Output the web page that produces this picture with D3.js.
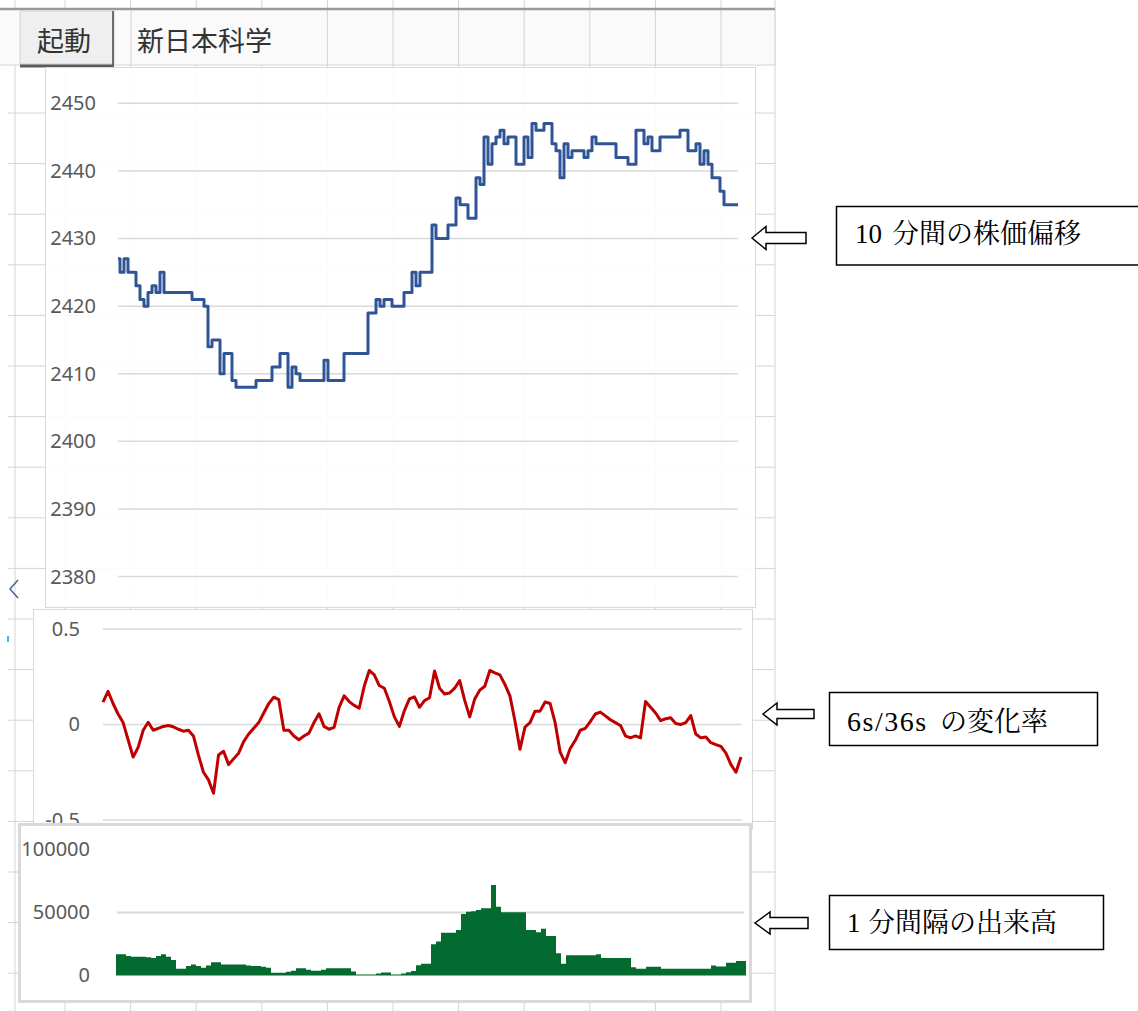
<!DOCTYPE html>
<html>
<head>
<meta charset="utf-8">
<script src="https://cdn.jsdelivr.net/npm/d3@7"></script>
<style>
  body { margin: 0; background: #fff; }
  .tick text { font-family: "Noto Sans", "Open Sans", sans-serif; font-size: 20px; fill: #595959; }
</style>
</head>
<body>
<div class="chart"></div>
<script>
// price over 10 minutes (one value every ~4 px of the plot)
var price = [
  2427, 2425, 2427, 2425, 2425, 2423, 2421, 2420, 2422, 2423,
  2422, 2425, 2422, 2422, 2422, 2422, 2422, 2422, 2422, 2421,
  2421, 2421, 2420, 2414, 2415, 2415, 2410, 2413, 2413, 2409,
  2408, 2408, 2408, 2408, 2408, 2409, 2409, 2409, 2409, 2411,
  2411, 2413, 2413, 2408, 2411, 2410, 2409, 2409, 2409, 2409,
  2409, 2409, 2412, 2409, 2409, 2409, 2409, 2413, 2413, 2413,
  2413, 2413, 2413, 2419, 2419, 2421, 2420, 2421, 2421, 2420,
  2420, 2420, 2422, 2422, 2425, 2423, 2425, 2425, 2425, 2432,
  2430, 2430, 2430, 2432, 2432, 2436, 2435, 2435, 2433, 2433,
  2439, 2438, 2445, 2441, 2444, 2445, 2446, 2444, 2445, 2445,
  2441, 2441, 2445, 2442, 2447, 2446, 2446, 2447, 2447, 2444,
  2443, 2439, 2444, 2442, 2443, 2443, 2443, 2442, 2443, 2445,
  2444, 2444, 2444, 2444, 2444, 2442, 2442, 2442, 2441, 2441,
  2446, 2446, 2444, 2445, 2443, 2443, 2445, 2445, 2445, 2445,
  2445, 2446, 2446, 2443, 2443, 2444, 2441, 2443, 2441, 2439,
  2439, 2437, 2435, 2435, 2435, 2435
];
var priceTicks = [2380, 2390, 2400, 2410, 2420, 2430, 2440, 2450];

// 6s/36s rate of change
var rate = [
  0.117, 0.174, 0.11, 0.055, 0.01, -0.08, -0.17, -0.12, -0.03, 0.012,
  -0.03, -0.02, -0.01, -0.005, -0.012, -0.025, -0.035, -0.03, -0.06, -0.16,
  -0.25, -0.29, -0.36, -0.16, -0.14, -0.21, -0.18, -0.15, -0.09, -0.05,
  -0.02, 0.01, 0.06, 0.11, 0.143, 0.13, -0.03, -0.03, -0.06, -0.08,
  -0.06, -0.045, 0.01, 0.056, -0.01, -0.025, -0.015, 0.09, 0.15, 0.12,
  0.10, 0.085, 0.2, 0.283, 0.26, 0.204, 0.19, 0.12, 0.04, -0.01,
  0.073, 0.134, 0.145, 0.09, 0.125, 0.14, 0.28, 0.19, 0.16, 0.165,
  0.19, 0.23, 0.126, 0.04, 0.134, 0.18, 0.2, 0.283, 0.27, 0.26,
  0.21, 0.15, 0.02, -0.13, -0.014, 0.01, 0.07, 0.07, 0.118, 0.11,
  0.01, -0.145, -0.2, -0.126, -0.084, -0.03, -0.02, 0.015, 0.055, 0.065,
  0.045, 0.025, 0.01, -0.005, -0.06, -0.07, -0.06, -0.07, 0.12, 0.09,
  0.06, 0.02, 0.03, 0.035, 0.005, 0.0, 0.01, 0.047, -0.05, -0.07,
  -0.065, -0.095, -0.105, -0.115, -0.15, -0.21, -0.25, -0.17
];
var rateTicks = [-0.5, 0, 0.5];

// volume per 1 minute interval
var volume = [
  16800, 16800, 15500, 14900, 14900, 14900, 14500, 13900, 15400, 16900,
  14900, 12300, 5400, 5400, 7500, 8800, 7500, 6100, 8000, 10500,
  10500, 8800, 8800, 8800, 8800, 8800, 8000, 7500, 7500, 7000,
  6100, 2200, 2200, 2200, 3000, 3800, 5700, 5700, 4500, 3800,
  3800, 4500, 5700, 5700, 5700, 5700, 5700, 3200, 700, 700,
  700, 700, 1500, 2300, 2300, 700, 700, 1500, 2500, 3500,
  8100, 9300, 9300, 24800, 27000, 34000, 34000, 34000, 36100, 48800,
  50600, 51000, 52000, 53300, 53300, 71800, 54600, 50200, 50200, 50200,
  50200, 50200, 36100, 36100, 34400, 37200, 31300, 31300, 17600, 9300,
  16000, 16000, 16000, 16000, 16000, 16000, 16800, 13900, 13900, 13900,
  13900, 13900, 13900, 6600, 5300, 5300, 7000, 7000, 7000, 5300,
  5300, 5300, 5300, 5300, 5300, 5300, 5300, 5300, 5300, 8000,
  7200, 7200, 10200, 10200, 11500, 11500, 11500
];
var volTicks = [0, 50000, 100000];
var volGrid = [50000];

var notes = [
  { num: "10", numSize: 27, numSpace: 0, numX: 855, text: "分間の株価偏移", textX: 892, base: 243,
    box: [836.5, 206.5, 320, 58.5], arrow: [752, 238, 766, 11.5, 5.5, 806] },
  { num: "6s/36s", numSize: 28, numSpace: 1.5, numX: 847, text: "の変化率", textX: 940, base: 731,
    box: [829.5, 692.5, 268, 53], arrow: [763, 714, 777, 11, 4.5, 814] },
  { num: "1", numSize: 27, numSpace: 0, numX: 847, text: "分間隔の出来高", textX: 868, base: 932,
    box: [829.5, 895.5, 274, 54], arrow: [755, 923, 770, 11, 5.5, 808] }
];

var svgWidth = 1138;
var svgHeight = 1011;

var svg = d3.select(".chart")
  .append("svg")
  .attr("width", svgWidth)
  .attr("height", svgHeight);

// ---- spreadsheet grid behind the charts ----
var gridColor = "#d4d4d4";
var sheet = svg.append("g");
var cols = [15];
for (var c = 65; c < 775; c += 65.6) cols.push(c);
var rows = [];
for (var r = 113; r < svgHeight; r += 50.6) rows.push(r);

sheet.selectAll(".vcol").data(cols).enter().append("line")
  .attr("x1", d => d).attr("x2", d => d)
  .attr("y1", 0).attr("y2", svgHeight)
  .attr("stroke", gridColor);
sheet.selectAll(".hrow").data(rows).enter().append("line")
  .attr("x1", 8).attr("x2", 775)
  .attr("y1", d => d).attr("y2", d => d)
  .attr("stroke", gridColor);
sheet.append("line").attr("x1", 775).attr("x2", 775).attr("y1", 0).attr("y2", svgHeight)
  .attr("stroke", gridColor);

// header row
sheet.append("rect").attr("x", 0).attr("y", 10).attr("width", 775).attr("height", 55)
  .attr("fill", "#fafafa");
sheet.selectAll(".hcol").data(cols.filter(d => d > 300).concat([131, 775])).enter().append("line")
  .attr("x1", d => d).attr("x2", d => d)
  .attr("y1", 10).attr("y2", 65)
  .attr("stroke", gridColor);
sheet.append("line").attr("x1", 0).attr("x2", 775).attr("y1", 9).attr("y2", 9)
  .attr("stroke", "#9a9a9a").attr("stroke-width", 2.5);
sheet.append("line").attr("x1", 0).attr("x2", 775).attr("y1", 65).attr("y2", 65)
  .attr("stroke", gridColor);

// button
sheet.append("rect").attr("x", 20).attr("y", 11).attr("width", 94).attr("height", 53)
  .attr("fill", "#efefef").attr("stroke", "#d0d0d0");
sheet.append("line").attr("x1", 113).attr("x2", 113).attr("y1", 11).attr("y2", 66)
  .attr("stroke", "#6e6e6e").attr("stroke-width", 2);
sheet.append("line").attr("x1", 20).attr("x2", 114).attr("y1", 66).attr("y2", 66)
  .attr("stroke", "#5a5a5a").attr("stroke-width", 3);
sheet.append("text").attr("x", 37).attr("y", 51)
  .style("font-family", "'Noto Sans CJK JP', sans-serif").style("font-size", "27px")
  .attr("fill", "#333").text("起動");
sheet.append("text").attr("x", 137).attr("y", 51)
  .style("font-family", "'Noto Sans CJK JP', sans-serif").style("font-size", "27px")
  .attr("fill", "#333").text("新日本科学");

// little scroll arrow and marker on the left
sheet.append("path").attr("d", "M18,580 L10,589 L18,598")
  .attr("fill", "none").attr("stroke", "#4a6a9a").attr("stroke-width", 1.6);
sheet.append("rect").attr("x", 7).attr("y", 636).attr("width", 2).attr("height", 6)
  .attr("fill", "#39b8ee");

// ---- chart 1: price ----
var chart1 = svg.append("g");
chart1.append("rect").attr("x", 45.5).attr("y", 67.5).attr("width", 710).attr("height", 540)
  .attr("fill", "#fff").attr("fill-opacity", 0.9).attr("stroke", "#d9d9d9");

var x1 = d3.scaleLinear().domain([0, price.length - 1]).range([118, 738]);
var y1 = d3.scaleLinear().domain([2380, 2450]).range([576.6, 103.3]);

chart1.selectAll(".grid").data(priceTicks).enter().append("line")
  .attr("x1", 118).attr("x2", 738)
  .attr("y1", d => y1(d)).attr("y2", d => y1(d))
  .attr("stroke", "#d9d9d9").attr("stroke-width", 1.5);

chart1.append("g")
  .attr("transform", "translate(96,0)")
  .call(d3.axisLeft(y1).tickValues(priceTicks).tickSize(0).tickPadding(0).tickFormat(d => String(d)))
  .call(g => g.select(".domain").remove());

chart1.append("path")
  .datum(price)
  .attr("d", d3.line().x((d, i) => x1(i)).y(d => y1(d)).curve(d3.curveStep))
  .attr("fill", "none")
  .attr("stroke", "#2f5597")
  .attr("stroke-width", 3)
  .attr("stroke-linejoin", "round");

// ---- chart 2: rate of change ----
var chart2 = svg.append("g");
chart2.append("rect").attr("x", 33.5).attr("y", 609.5).attr("width", 719).attr("height", 220)
  .attr("fill", "#fff").attr("stroke", "#d9d9d9");

var x2 = d3.scaleLinear().domain([0, rate.length - 1]).range([103, 741]);
var y2 = d3.scaleLinear().domain([-0.5, 0.5]).range([820, 629]);

chart2.selectAll(".grid").data(rateTicks).enter().append("line")
  .attr("x1", 103).attr("x2", 742)
  .attr("y1", d => y2(d)).attr("y2", d => y2(d))
  .attr("stroke", "#d9d9d9").attr("stroke-width", 1.5);

chart2.append("g")
  .attr("transform", "translate(80,0)")
  .call(d3.axisLeft(y2).tickValues(rateTicks).tickSize(0).tickPadding(0).tickFormat(d => String(d)))
  .call(g => g.select(".domain").remove());

chart2.append("path")
  .datum(rate)
  .attr("d", d3.line().x((d, i) => x2(i)).y(d => y2(d)))
  .attr("fill", "none")
  .attr("stroke", "#c00000")
  .attr("stroke-width", 3)
  .attr("stroke-linejoin", "round");

// ---- chart 3: volume ----
var chart3 = svg.append("g");
chart3.append("rect").attr("x", 19.5).attr("y", 824.5).attr("width", 731).attr("height", 177)
  .attr("fill", "#fff").attr("stroke", "#d9d9d9").attr("stroke-width", 3);

var x3 = d3.scaleLinear().domain([0, volume.length - 1]).range([116, 746]);
var y3 = d3.scaleLinear().domain([0, 100000]).range([975.5, 849.5]);

chart3.selectAll(".grid").data(volGrid).enter().append("line")
  .attr("x1", 117).attr("x2", 744)
  .attr("y1", d => y3(d)).attr("y2", d => y3(d))
  .attr("stroke", "#d9d9d9").attr("stroke-width", 2);

chart3.append("g")
  .attr("transform", "translate(90,0)")
  .call(d3.axisLeft(y3).tickValues(volTicks).tickSize(0).tickPadding(0).tickFormat(d => String(d)))
  .call(g => g.select(".domain").remove());

chart3.append("path")
  .datum(volume)
  .attr("d", d3.area().x((d, i) => x3(i)).y0(y3(0)).y1(d => y3(d)).curve(d3.curveStepAfter))
  .attr("fill", "#036a30");

// ---- annotations ----
var noteGroup = svg.selectAll(".note").data(notes).enter().append("g");

noteGroup.append("rect")
  .attr("x", d => d.box[0]).attr("y", d => d.box[1])
  .attr("width", d => d.box[2]).attr("height", d => d.box[3])
  .attr("fill", "#fff").attr("stroke", "#000").attr("stroke-width", 1.5);

noteGroup.append("path")
  .attr("d", function(d) {
    var a = d.arrow; // tipX, tipY, headBackX, headHalf, shaftHalf, endX
    return "M" + a[0] + "," + a[1] +
      " L" + a[2] + "," + (a[1] - a[3]) +
      " L" + a[2] + "," + (a[1] - a[4]) +
      " L" + a[5] + "," + (a[1] - a[4]) +
      " L" + a[5] + "," + (a[1] + a[4]) +
      " L" + a[2] + "," + (a[1] + a[4]) +
      " L" + a[2] + "," + (a[1] + a[3]) + " Z";
  })
  .attr("fill", "#fff").attr("stroke", "#000").attr("stroke-width", 1.5)
  .attr("stroke-linejoin", "miter");

noteGroup.append("text")
  .attr("x", d => d.numX).attr("y", d => d.base)
  .style("font-family", "'Liberation Serif', 'DejaVu Serif', serif")
  .style("font-size", d => d.numSize + "px")
  .style("letter-spacing", d => d.numSpace + "px")
  .attr("fill", "#000")
  .text(d => d.num);

noteGroup.append("text")
  .attr("x", d => d.textX).attr("y", d => d.base)
  .style("font-family", "'Noto Serif CJK JP', 'Noto Sans CJK JP', serif")
  .style("font-size", "27px")
  .attr("fill", "#000")
  .text(d => d.text);
</script>
</body>
</html>
